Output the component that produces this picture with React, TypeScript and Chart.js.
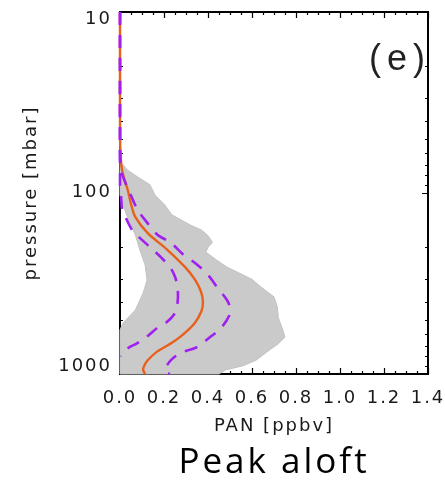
import React, { useEffect, useRef } from 'react';
import { Chart, registerables } from 'chart.js';

Chart.register(...registerables);

// ---- axes ----
const X_MIN = 0;
const X_MAX = 1.4;
const X_MAJOR_STEP = 0.2;
const X_MINOR_STEP = 0.05;
const P_MIN = 10;
const P_MAX = 1000;
const PRESSURE_TICKS = [10, 100, 1000];

// ---- mean profile (orange) : pressure [hPa], PAN [ppbv] ----
const MEAN_P = [10, 30, 55, 70, 80, 96, 115, 136, 166, 206, 256, 300, 350, 400, 450, 522, 600, 673, 750, 837, 900, 950, 1000];
const MEAN_V = [0, 0, 0.001, 0.006, 0.015, 0.035, 0.05, 0.07, 0.125, 0.215, 0.295, 0.34, 0.368, 0.377, 0.37, 0.34, 0.29, 0.236, 0.17, 0.127, 0.11, 0.105, 0.114];

// ---- lower spread (purple dashed) ----
const LOW_P = [10, 90, 105, 124, 140, 160, 177, 206, 229, 260, 290, 333, 400, 460, 520, 555, 625, 680, 720, 800];
const LOW_V = [0, 0, 0.005, 0.01, 0.03, 0.055, 0.09, 0.15, 0.19, 0.23, 0.25, 0.262, 0.262, 0.25, 0.21, 0.17, 0.12, 0.075, 0.036, 0.003];

// ---- upper spread (purple dashed) ----
const HIGH_P = [10, 60, 75, 87, 100, 124, 144, 170, 188, 220, 243, 283, 330, 390, 430, 480, 555, 625, 710, 760, 830, 910, 960, 1000];
const HIGH_V = [0, 0, 0.005, 0.023, 0.045, 0.08, 0.12, 0.17, 0.23, 0.29, 0.34, 0.4, 0.44, 0.486, 0.5, 0.495, 0.46, 0.41, 0.35, 0.28, 0.235, 0.21, 0.205, 0.225];

// ---- grey ensemble envelope: right edge (top -> bottom) ----
const ENV_RIGHT_P = [68, 75, 83, 90, 103, 117, 132, 150, 160, 172, 187, 200, 212, 235, 256, 300, 330, 375, 425, 490, 570, 625, 680, 736, 837, 900, 950, 1000];
const ENV_RIGHT_V = [0.005, 0.036, 0.09, 0.136, 0.16, 0.205, 0.236, 0.318, 0.37, 0.4, 0.42, 0.4, 0.39, 0.44, 0.485, 0.6, 0.64, 0.7, 0.715, 0.72, 0.74, 0.75, 0.72, 0.68, 0.62, 0.56, 0.48, 0.45];
// ---- grey ensemble envelope: left edge (bottom -> top) ----
const ENV_LEFT_P = [1000, 571, 522, 443, 357, 303, 250, 206, 171, 132, 117, 103, 68];
const ENV_LEFT_V = [0, 0, 0.014, 0.07, 0.105, 0.123, 0.114, 0.09, 0.07, 0.03, 0.014, 0, 0];

const TEXT_FONT = 'DejaVu Sans';
const TEXT_COLOR = '#1a1a1a';

const toPoints = (p: number[], v: number[]) => p.map((pp, i) => ({ x: v[i], y: pp }));

function drawFrame(chart: any) {
  const ctx = chart.ctx;
  const area = chart.chartArea;
  const xs = chart.scales.x;
  const ys = chart.scales.y;
  if (!area || !xs || !ys) return;
  const left = area.left, right = area.right, top = area.top, bottom = area.bottom;
  ctx.save();
  // draw behind everything already on the canvas (data overlays the frame)
  ctx.globalCompositeOperation = 'destination-over';
  ctx.setLineDash([]);
  ctx.strokeStyle = '#000000';
  ctx.lineWidth = 1.2;
  ctx.beginPath();
  const nX = Math.round((X_MAX - X_MIN) / X_MINOR_STEP);
  for (let i = 0; i <= nX; i++) {
    const v = X_MIN + i * X_MINOR_STEP;
    const r = v / X_MAJOR_STEP;
    const major = Math.abs(r - Math.round(r)) < 1e-6;
    const len = major ? 6 : 3;
    const px = Math.round(xs.getPixelForValue(v)) + 0.5;
    ctx.moveTo(px, bottom);
    ctx.lineTo(px, bottom - len);
    ctx.moveTo(px, top);
    ctx.lineTo(px, top + len);
  }
  for (let d = P_MIN; d < P_MAX; d *= 10) {
    for (let m = 1; m <= 10; m++) {
      const v = d * m;
      const len = m === 1 || m === 10 ? 6 : 3;
      const py = Math.round(ys.getPixelForValue(v)) + 0.5;
      ctx.moveTo(left, py);
      ctx.lineTo(left + len, py);
      ctx.moveTo(right, py);
      ctx.lineTo(right - len, py);
    }
  }
  ctx.stroke();
  ctx.lineWidth = 2;
  ctx.beginPath();
  ctx.moveTo(left, top);
  ctx.lineTo(right, top);
  ctx.lineTo(right, bottom);
  ctx.lineTo(left, bottom);
  ctx.closePath();
  ctx.stroke();
  ctx.restore();
}

function drawPressureLabels(chart: any) {
  const ctx = chart.ctx;
  const { left, top } = chart.chartArea;
  const ys = chart.scales.y;
  ctx.save();
  ctx.letterSpacing = '2px';
  ctx.font = `18px "${TEXT_FONT}"`;
  ctx.fillStyle = TEXT_COLOR;
  ctx.textAlign = 'right';
  ctx.textBaseline = 'middle';
  for (const v of PRESSURE_TICKS) {
    const py = ys.getPixelForValue(v);
    // IDL-style placement: labels sit slightly inside the axis range
    const ly = top + (py - top) * 0.96 + 7;
    ctx.fillText(String(v), left - 8, ly);
  }
  ctx.restore();
}

const framePlugin = {
  id: 'idlFrame',
  beforeDraw(chart: any) {
    chart.ctx.letterSpacing = '2px';
  },
  afterDraw(chart: any) {
    drawFrame(chart);
    drawPressureLabels(chart);
    const ctx = chart.ctx;
    const { left, right, top, bottom } = chart.chartArea;
    ctx.save();
    ctx.letterSpacing = '6px';
    ctx.fillStyle = '#222';
    ctx.font = '36px "Liberation Sans"';
    ctx.textAlign = 'right';
    ctx.textBaseline = 'middle';
    ctx.fillText('(e)', right + 3, top + 48);
    ctx.letterSpacing = '3px';
    ctx.fillStyle = '#000';
    ctx.font = '35px "Open Sans"';
    ctx.textAlign = 'center';
    ctx.textBaseline = 'alphabetic';
    ctx.fillText('Peak aloft', (left + right) / 2, bottom + 99);
    ctx.restore();
    ctx.letterSpacing = '0px';
  },
};

export default function App() {
  const ref = useRef<HTMLCanvasElement | null>(null);
  useEffect(() => {
    if (!ref.current) return;
    const chart = new Chart(ref.current, {
      type: 'scatter',
      data: {
        datasets: [
          {
            label: 'low',
            data: toPoints(LOW_P, LOW_V),
            showLine: true,
            borderColor: '#a020f0',
            borderWidth: 2.6,
            borderDash: [13, 10],
            pointRadius: 0,
            tension: 0.3,
            fill: false,
            clip: false,
          },
          {
            label: 'high',
            data: toPoints(HIGH_P, HIGH_V),
            showLine: true,
            borderColor: '#a020f0',
            borderWidth: 2.6,
            borderDash: [13, 10],
            pointRadius: 0,
            tension: 0.3,
            fill: false,
            clip: false,
          },
          {
            label: 'mean',
            data: toPoints(MEAN_P, MEAN_V),
            showLine: true,
            borderColor: '#e8601c',
            borderWidth: 2.4,
            pointRadius: 0,
            tension: 0.3,
            fill: false,
            clip: false,
          },
          {
            label: 'ensemble',
            data: [...toPoints(ENV_RIGHT_P, ENV_RIGHT_V), ...toPoints(ENV_LEFT_P, ENV_LEFT_V)],
            showLine: true,
            borderColor: '#c2c2c2',
            backgroundColor: '#cacaca',
            borderWidth: 1,
            pointRadius: 0,
            tension: 0,
            fill: 'shape',
            clip: false,
          },
        ],
      },
      options: {
        responsive: false,
        animation: false,
        devicePixelRatio: 1,
        layout: { padding: { top: 12, right: 17, left: 0, bottom: 0 } },
        plugins: {
          legend: { display: false },
          tooltip: { enabled: false },
          title: { display: false },
        },
        scales: {
          x: {
            type: 'linear',
            min: X_MIN,
            max: X_MAX,
            grid: { display: false, drawTicks: false },
            border: { display: false },
            ticks: {
              stepSize: X_MAJOR_STEP,
              autoSkip: false,
              maxRotation: 0,
              padding: 14,
              color: TEXT_COLOR,
              font: { family: TEXT_FONT, size: 18 },
              callback: (v: any) => Number(v).toFixed(1),
            },
            title: {
              display: true,
              text: 'PAN [ppbv]',
              color: TEXT_COLOR,
              font: { family: TEXT_FONT, size: 18 },
              padding: { top: 0, bottom: 45 },
            },
            afterFit: (s: any) => {
              s.height = 108;
              s.paddingLeft = 0;
              s.paddingRight = 0;
            },
          },
          y: {
            type: 'logarithmic',
            reverse: true,
            min: P_MIN,
            max: P_MAX,
            grid: { display: false, drawTicks: false },
            border: { display: false },
            afterBuildTicks: (s: any) => {
              s.ticks = PRESSURE_TICKS.map((v) => ({ value: v }));
            },
            ticks: {
              display: false,
            },
            title: {
              display: true,
              text: 'pressure [mbar]',
              color: TEXT_COLOR,
              font: { family: TEXT_FONT, size: 18 },
              padding: { top: 21, bottom: 0 },
            },
            afterFit: (s: any) => {
              s.width = 120;
              s.paddingTop = 0;
              s.paddingBottom = 0;
            },
          },
        },
      } as any,
      plugins: [framePlugin],
    });
    return () => chart.destroy();
  }, []);
  return (
    <div style={{ position: 'fixed', left: 0, top: 0, width: 445, height: 482, background: '#fff' }}>
      <canvas ref={ref} width={445} height={482} style={{ display: 'block', width: 445, height: 482 }} />
    </div>
  );
}
